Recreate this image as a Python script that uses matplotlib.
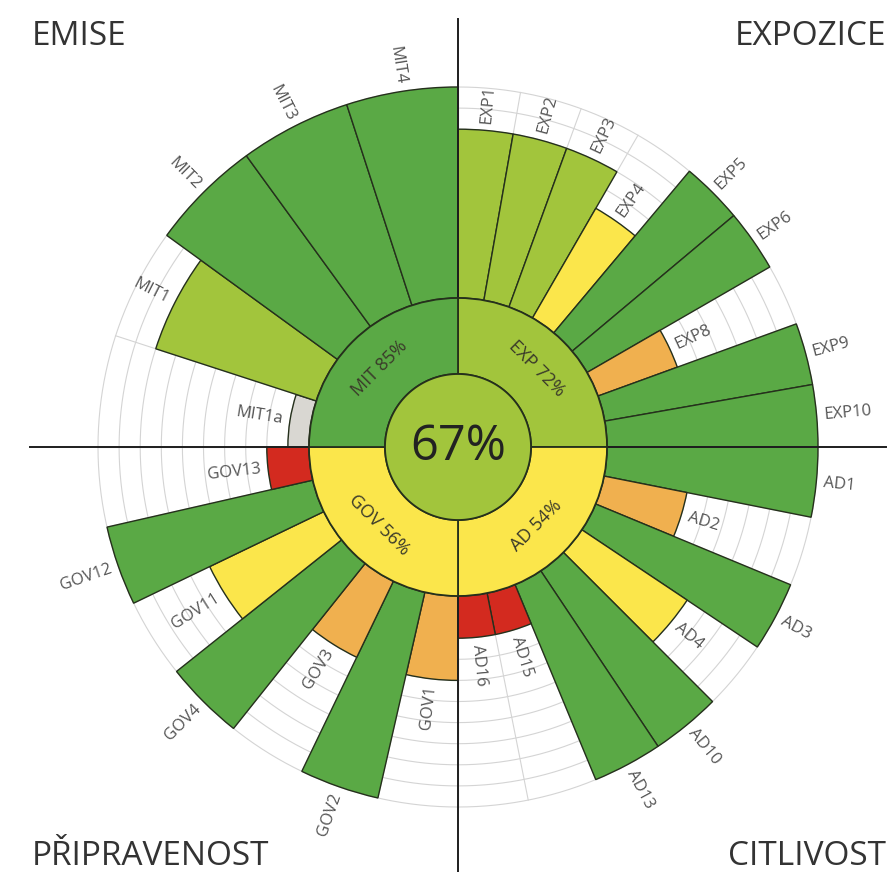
import numpy as np
import matplotlib
matplotlib.use("Agg")
import matplotlib.pyplot as plt

# indicator scores (%), each quadrant listed clockwise
exp_labels = ["EXP1", "EXP2", "EXP3", "EXP4", "EXP5", "EXP6", "EXP8", "EXP9", "EXP10"]
exp_scores = [80, 80, 80, 60, 100, 100, 40, 100, 100]
ad_labels = ["AD1", "AD2", "AD3", "AD4", "AD10", "AD13", "AD15", "AD16"]
ad_scores = [100, 40, 100, 60, 100, 100, 20, 20]
gov_labels = ["GOV1", "GOV2", "GOV3", "GOV4", "GOV11", "GOV12", "GOV13"]
gov_scores = [40, 100, 40, 100, 60, 100, 20]
mit_labels = ["MIT1a", "MIT1", "MIT2", "MIT3", "MIT4"]
mit_scores = [10, 80, 100, 100, 100]

groups = ["EXP", "AD", "GOV", "MIT"]
group_scores = [72, 54, 56, 85]
group_titles = ["EXPOZICE", "CITLIVOST", "PŘIPRAVENOST", "EMISE"]
total_score = 67

GREEN, LIGHT, YELLOW = "#5aa945", "#a2c53c", "#fbe64b"
ORANGE, RED, GREY = "#f0b04f", "#d32a1f", "#d9d7d2"
GRID, EDGE, TXT = "#d4d4d4", "#25301c", "#555555"


def score_color(v):
    if v >= 85: return GREEN
    if v >= 65: return LIGHT
    if v >= 50: return YELLOW
    if v >= 30: return ORANGE
    if v >= 15: return RED
    return GREY


def norm(a):
    return (a + 180) % 360 - 180


plt.rcParams["font.family"] = ["Open Sans", "DejaVu Sans"]

W, H = 890, 872
CX, CY = 458, 447          # chart centre, px from top-left
R_AX = 420
R_CORE, R_RING = 73, 149
PX = 2.11                  # px per percentage point
R_MAX = R_RING + 100 * PX

fig = plt.figure(figsize=(W / 100, H / 100), dpi=100)
ax = fig.add_axes([(CX - R_AX) / W, (H - CY - R_AX) / H, 2 * R_AX / W, 2 * R_AX / H],
                  projection="polar")
ax.set_theta_zero_location("N")
ax.set_theta_direction(-1)
ax.set_ylim(0, R_AX)
ax.axis("off")

t = np.linspace(0, 2 * np.pi, 721)
for k in range(1, 11):
    ax.plot(t, np.full_like(t, R_RING + 10 * k * PX), color=GRID, lw=0.8, zorder=1)

all_labels = [exp_labels, ad_labels, gov_labels, mit_labels]
all_scores = [exp_scores, ad_scores, gov_scores, mit_scores]

for q, (labels, scores) in enumerate(zip(all_labels, all_scores)):
    n = len(scores)
    w = (np.pi / 2) / n
    theta = q * np.pi / 2 + (np.arange(n) + 0.5) * w
    for e in q * np.pi / 2 + np.arange(n + 1) * w:
        ax.plot([e, e], [R_RING, R_MAX], color=GRID, lw=0.8, zorder=1)
    heights = np.array(scores) * PX
    ax.bar(theta, heights, width=w, bottom=R_RING, color=[score_color(s) for s in scores],
           edgecolor=EDGE, linewidth=1.0, zorder=2)
    for th, h, lab in zip(theta, heights, labels):
        a = norm(90 - np.degrees(th))
        if -90 < a <= 90:
            rot, ha = a, "left"
        else:
            rot, ha = norm(a - 180), "right"
        ax.text(th, R_RING + h + 7, lab, rotation=rot, ha=ha, va="center",
                rotation_mode="anchor", fontsize=12, color=TXT, zorder=6)

# quadrant cross
for a in np.arange(4) * np.pi / 2:
    ax.plot([a, a], [R_CORE, 428], color="#1e1e1e", lw=1.4, zorder=3, clip_on=False)

# inner ring with group scores
qc = np.arange(4) * np.pi / 2 + np.pi / 4
ax.bar(qc, R_RING - R_CORE, width=np.pi / 2, bottom=R_CORE,
       color=[score_color(s) for s in group_scores], edgecolor=EDGE, linewidth=1.3, zorder=4)
for th, g, s in zip(qc, groups, group_scores):
    rot = norm(90 - np.degrees(th) - 90)
    if rot > 90: rot -= 180
    if rot < -90: rot += 180
    ax.text(th, (R_CORE + R_RING) / 2, f"{g} {s}%", rotation=rot, ha="center", va="center",
            rotation_mode="anchor", fontsize=13, color="#3a3a2a", zorder=6)

ax.fill(t, np.full_like(t, R_CORE), facecolor=score_color(total_score), edgecolor=EDGE,
        linewidth=1.3, zorder=5)
ax.text(0, 0, f"{total_score}%", ha="center", va="center", fontsize=35, color="#222222", zorder=6)

# quadrant titles
fig.text(32 / W, 1 - 45 / H, group_titles[3], ha="left", va="baseline", fontsize=24, color="#333333")
fig.text(886 / W, 1 - 45 / H, group_titles[0], ha="right", va="baseline", fontsize=24, color="#333333")
fig.text(32 / W, 1 - 865 / H, group_titles[2], ha="left", va="baseline", fontsize=24, color="#333333")
fig.text(886 / W, 1 - 865 / H, group_titles[1], ha="right", va="baseline", fontsize=24, color="#333333")

fig.savefig("out.png", dpi=100, facecolor="white")
